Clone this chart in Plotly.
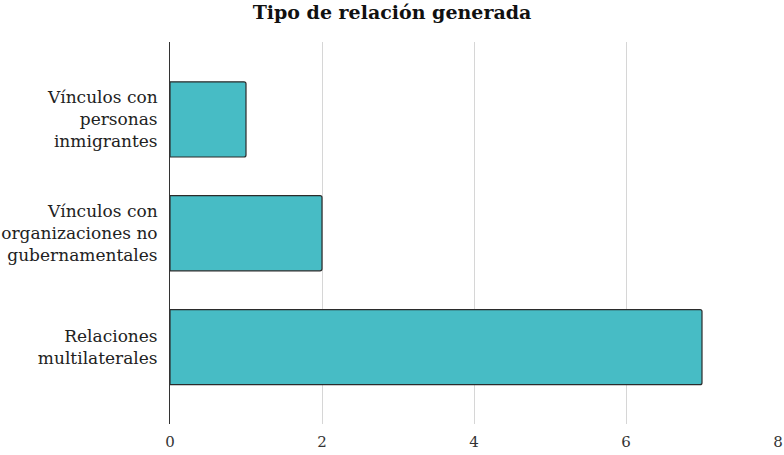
import plotly.graph_objects as go

categories = ["Relaciones<br>multilaterales",
              "Vínculos con<br>organizaciones no<br>gubernamentales",
              "Vínculos con<br>personas<br>inmigrantes"]
values = [7, 2, 1]
x_ticks = [0, 2, 4, 6, 8]
title = "Tipo de relación generada"

fig = go.Figure(go.Bar(
    x=values, y=categories, orientation="h",
    width=0.66,
    marker=dict(color="#47BCC5", line=dict(color="#2b2b2b", width=1.2)),
))
fig.update_layout(
    width=784, height=455,
    margin=dict(l=170, r=6, t=42, b=31),
    paper_bgcolor="white", plot_bgcolor="white",
    barcornerradius=2,
    title=dict(text="<b>" + title + "</b>", x=0.5, xanchor="center", y=0.972, yanchor="middle",
               font=dict(family="DejaVu Serif", size=19, color="#111")),
    font=dict(family="DejaVu Serif", size=17, color="#222"),
    showlegend=False,
)
fig.update_xaxes(range=[0, 8], tickvals=x_ticks, showgrid=True, gridcolor="#d6d6d6",
                 gridwidth=1, zeroline=False, showline=False, ticks="", automargin=False,
                 tickfont=dict(size=15, color="#333"), ticklabelstandoff=7)
fig.update_yaxes(type="category", range=[-0.675, 2.68], showline=True, linecolor="#333",
                 linewidth=1, showgrid=False, ticks="", ticklabelstandoff=8, automargin=False,
                 tickfont=dict(size=17, color="#222"))
fig.write_html("out.html", config={"displayModeBar": False},
               post_script="document.body.style.margin='0';")
